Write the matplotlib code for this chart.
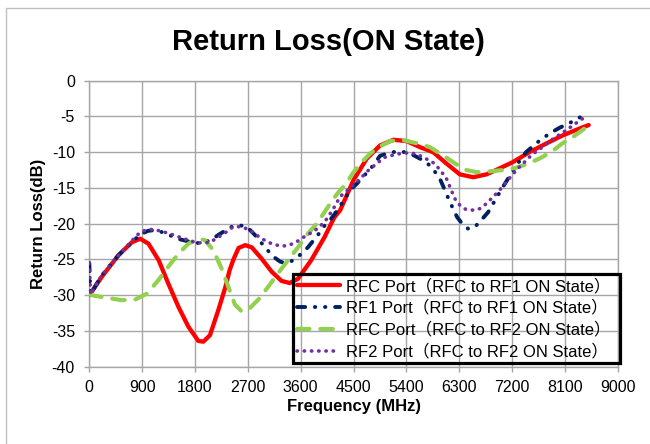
import matplotlib
matplotlib.use("Agg")
import matplotlib.pyplot as plt
from matplotlib.patches import Rectangle

# ---- data ----
red_f = [0, 215, 498, 725, 866, 1008, 1181, 1347, 1517, 1687, 1857, 1942, 2055, 2197,
         2320, 2390, 2455, 2542, 2655, 2767, 2936, 3105, 3274, 3414, 3555, 3780, 4005,
         4174, 4274, 4500, 4726, 4953, 5179, 5406, 5632, 5858, 6085, 6311, 6538, 6764,
         6927, 7211, 7495, 7779, 8063, 8347, 8506]
red_db = [-30, -27.4, -24.4, -22.6, -22.1, -22.8, -25.1, -28.4, -31.6, -34.4, -36.4, -36.5,
          -35.6, -32.1, -28.8, -26.5, -25.0, -23.4, -23.0, -23.3, -24.9, -26.7, -28.0, -28.3,
          -27.7, -25.1, -21.9, -19.1, -18.1, -13.9, -10.9, -9.05, -8.26, -8.45, -9.3, -10.0,
          -11.6, -13.1, -13.5, -13.1, -12.5, -11.4, -10.0, -8.8, -7.65, -6.7, -6.2]

navy_f = [0, 20, 215, 498, 725, 866, 1000, 1121, 1290, 1500, 1700, 1850, 1950, 2100, 2250,
          2400, 2542, 2680, 2824, 2992, 3133, 3250, 3330, 3450, 3583, 3724, 3892, 4005, 4100,
          4174, 4330, 4443, 4557, 4811, 4953, 5150, 5300, 5450, 5632, 5802, 5960, 6056, 6141,
          6266, 6380, 6453, 6540, 6623, 6792, 6927, 7041, 7170, 7314, 7438, 7637, 7836, 8006,
          8245, 8489]
navy_db = [-25.5, -29.9, -27.2, -24.4, -22.6, -21.5, -21.0, -20.9, -21.3, -22.1, -22.5, -22.7,
           -22.7, -22.1, -21.3, -20.5, -20.2, -20.4, -21.6, -23.3, -24.6, -25.3, -25.5, -25.2,
           -24.4, -23.3, -21.6, -20.3, -19.5, -18.7, -16.8, -15.3, -14.4, -12.1, -10.5, -10.0,
           -9.9, -10.1, -10.9, -11.85, -13.5, -15.3, -16.95, -19.1, -20.3, -20.7, -20.6, -20.0,
           -18.4, -16.5, -14.9, -13.2, -11.4, -10.0, -8.6, -7.4, -6.6, -5.65, -4.5]

green_f = [0, 102, 328, 555, 781, 979, 1177, 1347, 1517, 1687, 1857, 1970, 2112, 2254, 2367,
           2480, 2599, 2711, 2880, 3049, 3218, 3386, 3555, 3724, 3892, 4005, 4150, 4274, 4358,
           4500, 4641, 4783, 4924, 5122, 5320, 5604, 5802, 6028, 6198, 6396, 6600, 6800, 7041,
           7257, 7438, 7665, 7864, 8051, 8233, 8432, 8506]
green_db = [-29.9, -30.1, -30.4, -30.7, -30.6, -29.8, -27.9, -26.0, -24.2, -22.8, -22.1, -22.3,
            -23.7, -26.3, -28.8, -31.3, -32.3, -32.0, -30.6, -28.8, -26.9, -25.1, -23.3, -21.4,
            -19.8, -18.4, -16.6, -15.3, -14.6, -12.8, -11.4, -10.2, -9.3, -8.45, -8.26, -8.8,
            -9.3, -10.45, -11.4, -12.45, -12.8, -12.7, -12.5, -12.2, -11.7, -10.9, -10.0, -8.8,
            -7.9, -6.7, -6.3]

purple_f = [0, 20, 215, 498, 725, 810, 923, 1036, 1149, 1290, 1404, 1545, 1687, 1800, 1913,
            2055, 2197, 2310, 2423, 2514, 2627, 2767, 2936, 3105, 3246, 3358, 3499, 3667, 3836,
            4005, 4150, 4274, 4358, 4500, 4641, 4715, 4924, 5038, 5151, 5292, 5406, 5547, 5689,
            5887, 5972, 6074, 6170, 6226, 6311, 6413, 6538, 6651, 6764, 6859, 6956, 7041, 7170,
            7297, 7399, 7495, 7597, 7699, 7808, 7921, 8034, 8131, 8245, 8347, 8460]
purple_db = [-25.5, -29.9, -27.2, -24.4, -22.4, -21.6, -21.0, -20.8, -20.9, -21.2, -21.5, -21.9,
             -22.3, -22.6, -22.7, -22.6, -21.9, -21.3, -20.6, -20.4, -20.5, -21.1, -22.1, -22.8,
             -23.1, -23.1, -22.7, -21.8, -21.0, -19.8, -18.0, -16.2, -15.6, -14.6, -13.5, -12.8,
             -11.4, -10.7, -10.45, -10.2, -10.1, -10.2, -10.7, -11.6, -12.5, -13.5, -15.4, -16.5,
             -17.4, -18.0, -18.1, -17.9, -17.2, -16.4, -15.6, -14.8, -13.5, -12.3, -11.5, -10.7,
             -10.0, -9.4, -8.7, -8.0, -7.4, -6.9, -6.2, -5.6, -5.0]

labels = ["RFC Port（RFC to RF1 ON State）",
          "RF1 Port（RFC to RF1 ON State）",
          "RFC Port（RFC to RF2 ON State）",
          "RF2 Port（RFC to RF2 ON State）"]

x_ticks = [0, 900, 1800, 2700, 3600, 4500, 5400, 6300, 7200, 8100, 9000]
y_ticks = [0, -5, -10, -15, -20, -25, -30, -35, -40]

title = "Return Loss(ON State)"
xlabel = "Frequency (MHz)"
ylabel = "Return Loss(dB)"

# ---- figure ----
plt.rcParams['font.family'] = ['Liberation Sans', 'Noto Sans CJK SC', 'DejaVu Sans']

fig = plt.figure(figsize=(6.5, 4.44), dpi=100)
fig.patches.append(Rectangle((6 / 650, -0.1), 1.2, 1 - 8 / 444 + 0.1,
                             transform=fig.transFigure, fill=False,
                             edgecolor='#BFBFBF', linewidth=1.0))
ax = fig.add_axes([89.3 / 650, 1 - 366.7 / 444, 528.4 / 650, 286 / 444])

grid_c = '#A6A6A6'
ax.plot(red_f, red_db, color='#FF0000', lw=3.1, solid_capstyle='round', label=labels[0], zorder=3)
ax.plot(navy_f, navy_db, color='#002060', lw=2.8, dashes=(2.1, 2.5, 0.1, 2.5, 0.1, 2.5),
        dash_capstyle='round', label=labels[1], zorder=3)
ax.plot(green_f, green_db, color='#92D050', lw=3.0, dashes=(3.0, 2.6),
        dash_capstyle='round', label=labels[2], zorder=3)
ax.plot(purple_f, purple_db, color='#7030A0', lw=2.6, dashes=(0.1, 1.9),
        dash_capstyle='round', label=labels[3], zorder=3)

ax.set_xlim(0, 9000)
ax.set_ylim(-40, 0)
ax.set_xticks(x_ticks)
ax.set_yticks(y_ticks)
ax.set_xticklabels([str(v) for v in x_ticks])
ax.set_yticklabels([str(v) for v in y_ticks])
ax.grid(True, color=grid_c, lw=1.0)
ax.set_axisbelow(True)
for s in ax.spines.values():
    s.set_color(grid_c)
    s.set_linewidth(1.0)
ax.tick_params(axis='both', direction='out', length=3.8, width=1.0, color=grid_c,
               labelsize=11.5, labelcolor='black')
ax.tick_params(axis='x', pad=5.5)
ax.tick_params(axis='y', pad=6.5)

ax.set_xlabel(xlabel, fontsize=12, fontweight='bold', labelpad=3)
ax.set_ylabel(ylabel, fontsize=12, fontweight='bold', labelpad=4)
fig.text(0.506, 0.905, title, fontsize=21, fontweight='bold', ha='center', va='center')

leg = ax.legend(loc='lower left', bbox_to_anchor=(0.3855, 0.012, 0.6185, 0.305),
                mode='expand', fontsize=12, frameon=True, fancybox=False,
                handlelength=2.6, handletextpad=0.35, labelspacing=0.36,
                borderpad=0.22, borderaxespad=0)
leg.get_frame().set_edgecolor('black')
leg.get_frame().set_linewidth(2.3)
leg.get_frame().set_alpha(None)
leg.get_frame().set_facecolor('none')
leg.set_zorder(5)

fig.savefig('out.png', dpi=100)
